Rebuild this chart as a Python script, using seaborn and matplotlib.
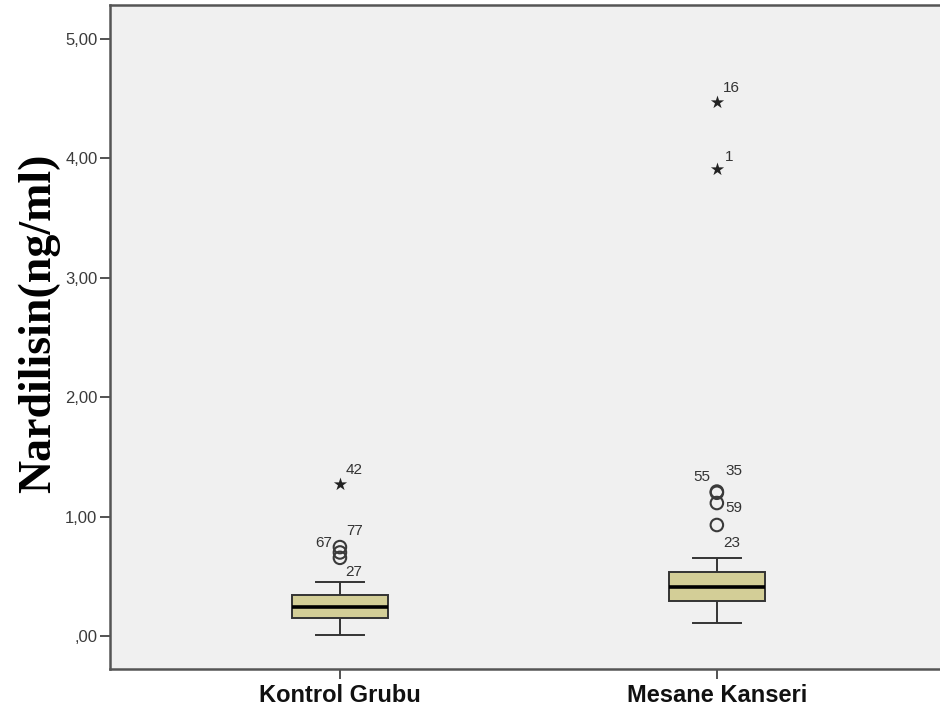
import matplotlib
matplotlib.use("Agg")
import matplotlib.pyplot as plt
import seaborn as sns
import pandas as pd

# Groups on the x axis
groups = ["Kontrol Grubu", "Mesane Kanseri"]

# Five-number summaries: lower whisker, Q1, median, Q3, upper whisker (ng/ml)
kontrol_summary = [0.008, 0.151, 0.243, 0.343, 0.452]
mesane_summary = [0.109, 0.293, 0.410, 0.536, 0.653]

# Outliers (circles) and extreme values (stars) with their case numbers
kontrol_outliers = [0.745, 0.700, 0.655]
kontrol_outlier_ids = ["77", "67", "27"]
kontrol_extremes = [1.27]
kontrol_extreme_ids = ["42"]

mesane_outliers = [1.210, 1.200, 1.114, 0.930]
mesane_outlier_ids = ["55", "35", "59", "23"]
mesane_extremes = [4.47, 3.91]
mesane_extreme_ids = ["16", "1"]

# Y axis ticks and their labels
yticks = [0, 1, 2, 3, 4, 5]
ytick_labels = [",00", "1,00", "2,00", "3,00", "4,00", "5,00"]

y_title = "Nardilisin(ng/ml)"

# Offsets (pixels) of the case-number labels relative to their markers
label_offsets = {
    "42": (14, 14), "77": (15, 16), "67": (-16, 9), "27": (14, -14),
    "55": (-15, 15), "35": (17, 22), "59": (17, -5), "23": (15, -18),
    "16": (15, 14), "1": (12, 12),
}

box_df = pd.DataFrame({
    "group": [groups[0]] * len(kontrol_summary) + [groups[1]] * len(mesane_summary),
    "value": kontrol_summary + mesane_summary,
})
outlier_df = pd.DataFrame({
    "group": [groups[0]] * len(kontrol_outliers) + [groups[1]] * len(mesane_outliers),
    "value": kontrol_outliers + mesane_outliers,
    "case": kontrol_outlier_ids + mesane_outlier_ids,
})
extreme_df = pd.DataFrame({
    "group": [groups[0]] * len(kontrol_extremes) + [groups[1]] * len(mesane_extremes),
    "value": kontrol_extremes + mesane_extremes,
    "case": kontrol_extreme_ids + mesane_extreme_ids,
})

fig = plt.figure(figsize=(9.4, 7.18), dpi=100)
ax = fig.add_axes([110 / 940, 1 - 669 / 718, 1 - 110 / 940, 664 / 718])
ax.set_facecolor("#f0f0f0")

line_col = "#333333"
sns.boxplot(
    data=box_df, x="group", y="value", order=groups,
    width=0.255, color="#d3ce97", saturation=1, linecolor=line_col,
    linewidth=1.4, showfliers=False, whis=1.5,
    medianprops=dict(color="black", linewidth=2.6),
    ax=ax,
)
sns.stripplot(
    data=outlier_df, x="group", y="value", order=groups, jitter=False,
    marker="o", size=9, color="none", edgecolor="#3a3a3a", linewidth=1.5,
    ax=ax, zorder=4,
)
sns.stripplot(
    data=extreme_df, x="group", y="value", order=groups, jitter=False,
    marker="*", size=10, color="#222222", linewidth=0,
    ax=ax, zorder=4,
)

# Case-number labels next to each marker
for frame in (outlier_df, extreme_df):
    for g, v, case in zip(frame["group"], frame["value"], frame["case"]):
        dx, dy = label_offsets[case]
        ax.annotate(case, xy=(groups.index(g), v), xytext=(dx, dy),
                    textcoords="offset pixels", ha="center", va="center",
                    fontsize=11, color="#333333", family="Liberation Sans")

ax.set_xlim(-0.610, 1.592)
ax.set_ylim(-0.276, 5.285)
ax.set_yticks(yticks)
ax.set_yticklabels(ytick_labels)
ax.set_xlabel("")
ax.set_ylabel(y_title, family="Liberation Serif", fontweight="bold",
              fontsize=33, color="black")
ax.yaxis.set_label_coords(-0.06, 0.52)

for lbl in ax.get_yticklabels():
    lbl.set_family("Liberation Sans")
    lbl.set_fontsize(12)
    lbl.set_color("#3a3a3a")
for lbl in ax.get_xticklabels():
    lbl.set_family("Liberation Sans")
    lbl.set_fontsize(17)
    lbl.set_fontweight("bold")
    lbl.set_color("#111111")

ax.tick_params(axis="both", direction="out", length=7, width=1.3, colors="#444444")
ax.tick_params(axis="y", pad=2, labelcolor="#3a3a3a")
ax.tick_params(axis="x", pad=4, labelcolor="#111111")

for side in ("left", "bottom", "top"):
    ax.spines[side].set_color("#555555")
    ax.spines[side].set_linewidth(1.8)
ax.spines["right"].set_visible(False)

fig.savefig("out.png", dpi=100, facecolor="white")
